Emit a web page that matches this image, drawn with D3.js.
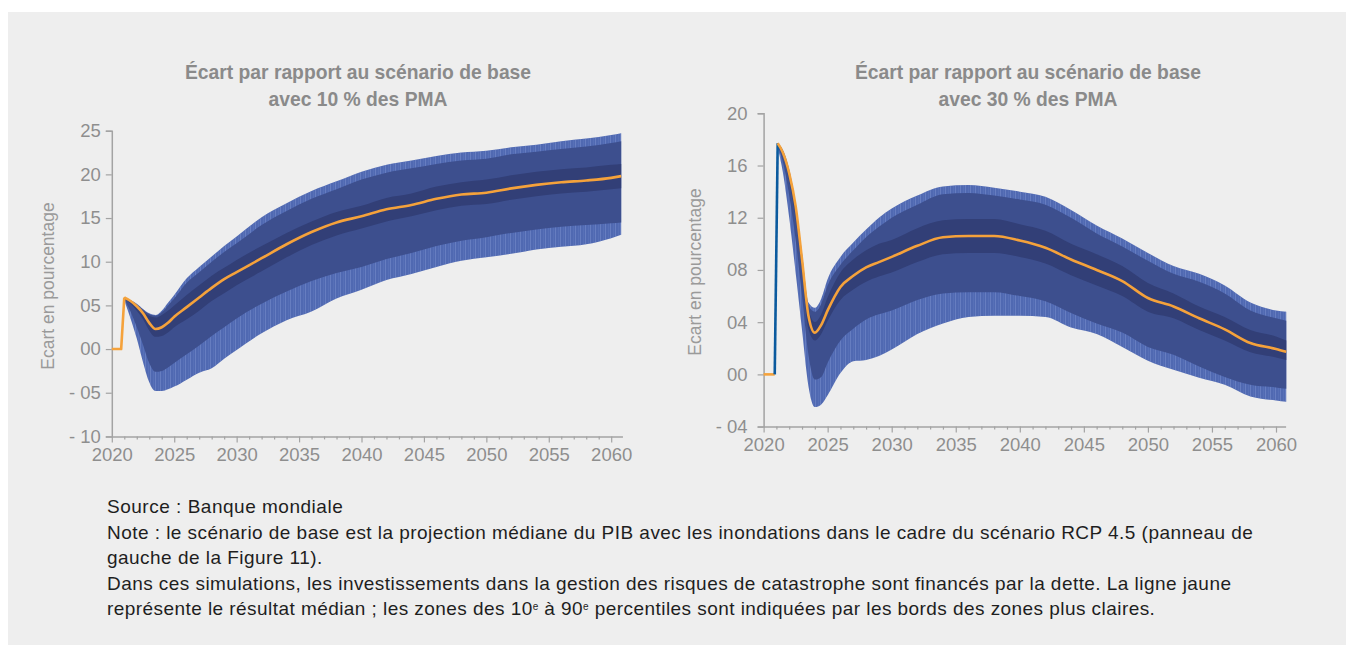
<!DOCTYPE html>
<html>
<head>
<meta charset="utf-8">
<script src="https://cdn.jsdelivr.net/npm/d3@7"></script>
<style>
  html, body { margin: 0; padding: 0; background: #ffffff; }
  svg { display: block; }
  text { font-family: "Liberation Sans", Arial, sans-serif; }
</style>
</head>
<body>
<svg id="chart" width="1354" height="655"></svg>
<script>
// ---------------- DATA ----------------
const titleLeft = ["Écart par rapport au scénario de base", "avec 10 % des PMA"];
const titleRight = ["Écart par rapport au scénario de base", "avec 30 % des PMA"];
const yAxisTitle = "Ecart en pourcentage";

const xTicks = [2020, 2025, 2030, 2035, 2040, 2045, 2050, 2055, 2060];
const yTicksL = [-10, -5, 0, 5, 10, 15, 20, 25];
const yTickLabelsL = ["- 10", "- 05", "00", "05", "10", "15", "20", "25"];
const yTicksR = [-4, 0, 4, 8, 12, 16, 20];
const yTickLabelsR = ["- 04", "00", "04", "08", "12", "16", "20"];

// Left panel (10 % des PMA)
const leadYearsL = [2020, 2020.75];
const leadValuesL = [0, 0];
const yearsL = [2021.0, 2021.5, 2022, 2022.5, 2023, 2023.5, 2024, 2024.5, 2025, 2026, 2027, 2028, 2029, 2030, 2032, 2034, 2036, 2038, 2040, 2042, 2044, 2046, 2048, 2050, 2052, 2054, 2056, 2058, 2060, 2060.8];
const medianL  = [5.9, 5.5, 4.9, 4.1, 3.0, 2.3, 2.5, 3.0, 3.7, 4.8, 5.9, 7.0, 8.0, 8.8, 10.4, 12.0, 13.4, 14.5, 15.2, 16.0, 16.5, 17.2, 17.7, 17.9, 18.4, 18.8, 19.1, 19.3, 19.6, 19.8];
const outerUpL = [5.9, 5.6, 5.2, 4.6, 4.1, 3.9, 4.4, 5.3, 6.2, 8.1, 9.4, 10.6, 11.8, 12.9, 15.1, 16.7, 18.1, 19.2, 20.3, 21.1, 21.6, 22.1, 22.5, 22.7, 23.1, 23.4, 23.8, 24.1, 24.5, 24.7];
const midUpL   = [5.9, 5.55, 5.1, 4.5, 4.0, 3.8, 4.2, 5.0, 5.8, 7.6, 8.8, 10.0, 11.1, 12.1, 14.2, 15.8, 17.2, 18.3, 19.4, 20.2, 20.7, 21.2, 21.6, 21.8, 22.3, 22.6, 22.9, 23.2, 23.6, 23.8];
const innerUpL = [5.9, 5.5, 5.0, 4.3, 3.8, 3.6, 3.9, 4.4, 5.0, 6.2, 7.3, 8.4, 9.3, 10.2, 11.8, 13.3, 14.6, 15.7, 16.4, 17.3, 17.8, 18.6, 19.1, 19.4, 19.9, 20.3, 20.6, 20.8, 21.1, 21.2];
const innerLoL = [5.8, 5.2, 4.4, 3.4, 2.1, 1.4, 1.5, 1.9, 2.5, 3.4, 4.4, 5.5, 6.4, 7.3, 8.9, 10.5, 11.9, 13.0, 13.8, 14.6, 15.2, 15.9, 16.4, 16.6, 17.1, 17.5, 17.8, 18.0, 18.3, 18.4];
const midLoL   = [5.7, 4.3, 2.5, 0.5, -1.6, -2.6, -2.5, -2.1, -1.6, -0.6, 0.4, 1.5, 2.5, 3.5, 5.2, 6.6, 7.8, 8.7, 9.4, 10.3, 11.0, 11.8, 12.4, 12.8, 13.3, 13.7, 14.0, 14.2, 14.4, 14.5];
const outerLoL = [5.6, 3.5, 1.2, -1.5, -3.8, -4.8, -4.8, -4.6, -4.3, -3.5, -2.7, -2.2, -1.1, -0.1, 1.8, 3.3, 4.3, 5.8, 6.8, 7.9, 8.6, 9.4, 10.1, 10.5, 10.9, 11.4, 11.7, 12.0, 12.7, 13.1];

// Right panel (30 % des PMA)
const leadYearsR = [2020, 2020.87];
const leadValuesR = [0, 0];
const jumpYearsR = [2020.87, 2021.1];
const jumpValuesR = [0, 17.7];
const yearsR = [2021.1, 2021.5, 2022, 2022.5, 2023, 2023.5, 2024, 2024.5, 2025, 2026, 2027, 2028, 2029, 2030, 2032, 2034, 2036, 2038, 2040, 2042, 2044, 2046, 2048, 2050, 2052, 2054, 2056, 2058, 2060, 2060.8];
const medianR  = [17.7, 17.0, 15.4, 12.9, 8.8, 4.5, 3.2, 3.8, 4.9, 6.7, 7.55, 8.2, 8.6, 9.0, 9.85, 10.5, 10.6, 10.6, 10.25, 9.7, 8.8, 8.0, 7.15, 5.85, 5.2, 4.3, 3.45, 2.4, 1.95, 1.73];
const outerUpR = [17.7, 17.2, 15.7, 13.1, 9.3, 5.5, 5.1, 5.8, 7.3, 9.0, 10.1, 11.1, 12.0, 12.7, 13.7, 14.4, 14.5, 14.3, 14.0, 13.6, 12.6, 11.4, 10.4, 9.3, 8.3, 7.7, 6.8, 5.5, 4.9, 4.8];
const midUpR   = [17.7, 17.15, 15.6, 13.0, 9.2, 5.3, 4.8, 5.4, 6.8, 8.4, 9.5, 10.5, 11.3, 12.0, 13.0, 13.8, 13.9, 13.7, 13.4, 13.0, 12.0, 10.8, 9.8, 8.7, 7.7, 7.1, 6.2, 4.9, 4.3, 4.1];
const innerUpR = [17.7, 17.1, 15.55, 13.0, 9.0, 5.0, 4.0, 4.6, 5.9, 7.8, 8.8, 9.5, 10.0, 10.3, 11.2, 11.8, 11.9, 11.9, 11.5, 11.0, 10.0, 9.2, 8.3, 7.0, 6.2, 5.2, 4.4, 3.4, 2.9, 2.6];
const innerLoR = [17.6, 16.8, 14.8, 12.0, 7.9, 3.5, 2.6, 3.1, 4.1, 5.7, 6.5, 7.1, 7.5, 7.8, 8.6, 9.2, 9.3, 9.3, 9.0, 8.5, 7.6, 6.8, 6.0, 4.8, 4.3, 3.4, 2.6, 1.7, 1.3, 1.1];
const midLoR   = [17.5, 16.3, 13.7, 10.3, 6.0, 1.5, -0.4, -0.2, 0.9, 2.6, 3.5, 4.2, 4.6, 4.9, 5.7, 6.2, 6.3, 6.3, 6.0, 5.6, 4.7, 3.9, 3.2, 2.1, 1.5, 0.6, -0.2, -0.8, -1.0, -1.1];
const outerLoR = [17.4, 15.5, 12.0, 7.8, 3.4, -0.9, -2.5, -2.3, -1.6, 0.1, 1.0, 1.1, 1.4, 1.9, 3.1, 3.9, 4.4, 4.5, 4.5, 4.4, 3.6, 3.1, 2.1, 1.05, 0.35, -0.25, -0.8, -1.7, -2.0, -2.1];

const sourceLines = [
  "Source : Banque mondiale",
  "Note :  le scénario de base est la projection médiane du PIB avec les inondations dans le cadre du scénario RCP 4.5 (panneau de",
  "gauche de la Figure 11).",
  "Dans ces simulations, les investissements dans la gestion des risques de catastrophe sont financés par la dette. La ligne jaune"
];

// ---------------- STYLE ----------------
const colOuter = "#5069b2";
const colMid = "#3d4f8e";
const colInner = "#323f77";
const colMedian = "#f5a23b";
const colJump = "#0b5a9e";
const colAxis = "#a3a3a3";
const colTick = "#8e8e8e";
const tickFont = 18.5;

const svg = d3.select("#chart");
const defs = svg.append("defs");
const pat = defs.append("pattern").attr("id", "stripes").attr("patternUnits", "userSpaceOnUse")
  .attr("width", 5).attr("height", 10);
pat.append("rect").attr("x", 0).attr("y", 0).attr("width", 1).attr("height", 10).attr("fill", "#8ea2da").attr("opacity", 0.35);
pat.append("rect").attr("x", 3).attr("y", 0).attr("width", 0.6).attr("height", 10).attr("fill", "#8ea2da").attr("opacity", 0.2);

svg.append("rect").attr("x", 8).attr("y", 12).attr("width", 1338).attr("height", 633).attr("fill", "#eeeeee");

function panel(cfg) {
  const g = svg.append("g");
  const x = d3.scaleLinear().domain([2020, 2060]).range(cfg.xRange);
  const y = d3.scaleLinear().domain(cfg.yDomain).range(cfg.yRange);
  const xEnd = x(cfg.xMax);

  cfg.title.forEach((t, i) => {
    g.append("text").attr("x", cfg.titleX).attr("y", cfg.titleY + i * 26.5)
      .attr("text-anchor", "middle").attr("font-size", 19.3).attr("font-weight", "bold")
      .attr("fill", "#8a8a8a").text(t);
  });

  g.append("text").attr("transform", `translate(${cfg.yTitleX},${cfg.yTitleY}) rotate(-90)`)
    .attr("text-anchor", "middle").attr("font-size", 17.5).attr("fill", "#9a9a9a").text(yAxisTitle);

  const ys = cfg.years;
  const band = (lo, hi, col, striped) => {
    const area = d3.area().curve(d3.curveMonotoneX)
      .x((d, i) => x(ys[i])).y0((d, i) => y(lo[i])).y1((d, i) => y(hi[i]));
    g.append("path").datum(ys).attr("d", area).attr("fill", col);
    if (striped) g.append("path").datum(ys).attr("d", area).attr("fill", "url(#stripes)");
  };
  band(cfg.outerLo, cfg.outerUp, colOuter, true);
  band(cfg.midLo, cfg.midUp, colMid, false);
  band(cfg.innerLo, cfg.innerUp, colInner, false);

  const yAxis = d3.axisLeft(y).tickValues(cfg.yTicks).tickSize(6).tickPadding(cfg.yPad)
    .tickFormat((d, i) => cfg.yLabels[i]);
  const ya = g.append("g").attr("transform", `translate(${cfg.xRange[0]},0)`).call(yAxis);
  ya.select(".domain").attr("stroke", colAxis).attr("stroke-width", 1.5);
  ya.selectAll(".tick line").attr("stroke", colAxis).attr("stroke-width", 1.2);
  ya.selectAll(".tick text").attr("fill", colTick).attr("font-size", tickFont)
    .style("font-family", '"Liberation Sans", Arial, sans-serif');

  const xAxisScale = d3.scaleLinear().domain([2020, cfg.xMax]).range([x(2020), xEnd]);
  const xa = g.append("g").attr("transform", `translate(0,${y(cfg.yDomain[0])})`)
    .call(d3.axisBottom(xAxisScale).tickValues(xTicks).tickSize(6).tickPadding(5).tickSizeOuter(0).tickFormat(d3.format("d")));
  xa.select(".domain").attr("stroke", colAxis).attr("stroke-width", 1.5);
  xa.selectAll(".tick line").attr("stroke", colAxis).attr("stroke-width", 1.2);
  xa.selectAll(".tick text").attr("fill", colTick).attr("font-size", tickFont)
    .style("font-family", '"Liberation Sans", Arial, sans-serif');
  const minor = d3.range(2020, 2061).filter(v => v % 5 !== 0);
  const xm = g.append("g").attr("transform", `translate(0,${y(cfg.yDomain[0])})`)
    .call(d3.axisBottom(xAxisScale).tickValues(minor).tickSize(3).tickFormat(""));
  xm.select(".domain").remove();
  xm.selectAll(".tick line").attr("stroke", colAxis).attr("stroke-width", 1.2);

  const line = d3.line().x(d => x(d[0])).y(d => y(d[1]));
  const leadPts = cfg.leadYears.map((v, i) => [v, cfg.leadValues[i]]);
  if (cfg.jumpYears) {
    g.append("path").datum(leadPts).attr("d", line).attr("fill", "none")
      .attr("stroke", colMedian).attr("stroke-width", 2.6);
    const jp = cfg.jumpYears.map((v, i) => [v, cfg.jumpValues[i]]);
    g.append("path").datum(jp).attr("d", line).attr("fill", "none")
      .attr("stroke", colJump).attr("stroke-width", 2.6);
  } else {
    const pts = leadPts.concat([[ys[0], cfg.median[0]]]);
    g.append("path").datum(pts).attr("d", line).attr("fill", "none")
      .attr("stroke", colMedian).attr("stroke-width", 2.6).attr("stroke-linejoin", "round");
  }
  const medLine = d3.line().curve(d3.curveMonotoneX).x((d, i) => x(ys[i])).y((d, i) => y(cfg.median[i]));
  g.append("path").datum(ys).attr("d", medLine).attr("fill", "none")
    .attr("stroke", colMedian).attr("stroke-width", 2.6).attr("stroke-linejoin", "round");
}

panel({
  xRange: [111.8, 611.2], xMax: 2060.9, yDomain: [-10, 25], yRange: [436.4, 130.7],
  yTicks: yTicksL, yLabels: yTickLabelsL, yPad: 5, title: titleLeft, titleX: 358, titleY: 79,
  yTitleX: 54, yTitleY: 286,
  years: yearsL, median: medianL, outerUp: outerUpL, midUp: midUpL, innerUp: innerUpL,
  innerLo: innerLoL, midLo: midLoL, outerLo: outerLoL,
  leadYears: leadYearsL, leadValues: leadValuesL
});
panel({
  xRange: [763.6, 1276], xMax: 2060.75, yDomain: [-4, 20], yRange: [426.6, 113.3],
  yTicks: yTicksR, yLabels: yTickLabelsR, yPad: 10, title: titleRight, titleX: 1028, titleY: 79,
  yTitleX: 701, yTitleY: 272,
  years: yearsR, median: medianR, outerUp: outerUpR, midUp: midUpR, innerUp: innerUpR,
  innerLo: innerLoR, midLo: midLoR, outerLo: outerLoR,
  leadYears: leadYearsR, leadValues: leadValuesR, jumpYears: jumpYearsR, jumpValues: jumpValuesR
});

// notes
const noteSize = 19;
const widen = 20 / 19;
const noteG = svg.append("g").attr("font-size", noteSize).attr("fill", "#1e1e1e")
  .style("white-space", "pre");
const fit = sel => {
  const w = sel.node().getComputedTextLength();
  sel.attr("textLength", w * widen).attr("lengthAdjust", "spacing");
};
sourceLines.forEach((t, i) => {
  const tx = noteG.append("text").attr("x", 107).attr("y", 513 + i * 25.5).text(t);
  fit(tx);
});
const last = noteG.append("text").attr("x", 107).attr("y", 513 + 4 * 25.5);
last.append("tspan").text("représente le résultat médian ; les zones des 10");
last.append("tspan").attr("baseline-shift", "super").attr("font-size", 10).text("e");
last.append("tspan").text(" à 90");
last.append("tspan").attr("baseline-shift", "super").attr("font-size", 10).text("e");
last.append("tspan").text(" percentiles sont indiquées par les bords des zones plus claires.");
fit(last);
</script>
</body>
</html>
